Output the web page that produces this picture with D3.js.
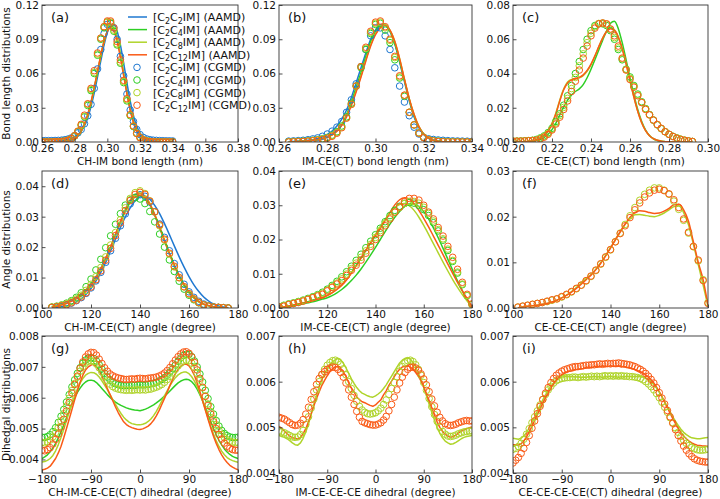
<!DOCTYPE html>
<html><head><meta charset="utf-8">
<script src="https://cdn.jsdelivr.net/npm/d3@7"></script>
<style>body{margin:0;background:#fff} svg text{font-family:"DejaVu Sans",sans-serif;fill:#111}</style>
</head><body><svg id="c" width="720" height="499"></svg>
<script>
// ---------- (a) CH-IM bond length ----------
const aX=[0.260,0.262,0.264,0.266,0.268,0.270,0.272,0.274,0.276,0.278,0.280,0.282,0.284,0.286,0.288,0.290,0.292,0.294,0.296,0.298,0.300,0.302,0.304,0.306,0.308,0.310,0.312,0.314,0.316,0.318,0.320,0.322,0.324,0.326,0.328,0.330,0.332,0.334,0.336,0.338,0.340];
const aLineC2=[0.0003,0.0004,0.0005,0.0006,0.0008,0.001,0.0013,0.0017,0.0023,0.0032,0.0045,0.0065,0.0095,0.014,0.021,0.031,0.043,0.057,0.071,0.085,0.096,0.102,0.103,0.097,0.085,0.069,0.052,0.036,0.023,0.014,0.008,0.0045,0.0028,0.0018,0.0012,0.0008,0.0005,0.0003,0.0002,0.0001,0];
const aLineC4=[0,0,0,0,0,0.0001,0.0003,0.0006,0.0011,0.002,0.0035,0.006,0.0098,0.0155,0.0235,0.034,0.047,0.061,0.075,0.088,0.097,0.102,0.1,0.091,0.077,0.06,0.044,0.029,0.018,0.01,0.0055,0.0028,0.0013,0.0006,0.0003,0.0001,0,0,0,0,0];
const aLineC8=[0,0,0,0,0,0.0001,0.0002,0.0005,0.001,0.0018,0.0033,0.0058,0.0096,0.0153,0.0235,0.0345,0.0475,0.0615,0.0755,0.088,0.097,0.101,0.099,0.09,0.076,0.059,0.043,0.0285,0.0175,0.0098,0.0052,0.0026,0.0012,0.0005,0.0002,0.0001,0,0,0,0,0];
const aLineC12=[0,0,0,0,0,0.0001,0.0002,0.0004,0.0008,0.0016,0.003,0.0055,0.0095,0.0155,0.024,0.035,0.048,0.062,0.076,0.088,0.097,0.1,0.097,0.088,0.074,0.058,0.042,0.028,0.017,0.0095,0.005,0.0025,0.0012,0.0005,0.0002,0.0001,0,0,0,0,0];
const aDotC2=[0.0012,0.0012,0.0012,0.0012,0.0013,0.0014,0.0016,0.002,0.0026,0.0036,0.0055,0.008,0.011,0.016,0.023,0.033,0.047,0.064,0.081,0.095,0.103,0.104,0.1,0.09,0.075,0.058,0.042,0.028,0.018,0.011,0.0065,0.004,0.0027,0.002,0.0016,0.0014,0.0012,0.0011,0.001,0.001,0.0009];
const aDotC4=[0,0,0,0.0001,0.0002,0.0003,0.0005,0.0009,0.0016,0.003,0.0053,0.009,0.0145,0.022,0.032,0.045,0.06,0.076,0.09,0.1,0.105,0.104,0.097,0.085,0.069,0.052,0.036,0.023,0.0135,0.0075,0.004,0.002,0.001,0.0005,0.0002,0.0001,0,0,0,0,0];
const aDotC8=[0,0,0,0.0001,0.0002,0.0003,0.0005,0.0009,0.0016,0.003,0.0054,0.0092,0.0148,0.0225,0.033,0.046,0.061,0.077,0.091,0.101,0.105,0.105,0.098,0.086,0.07,0.053,0.037,0.0235,0.014,0.0078,0.0041,0.002,0.001,0.0005,0.0002,0.0001,0,0,0,0,0];
const aDotC12=[0,0,0,0,0.0001,0.0002,0.0004,0.0008,0.0015,0.003,0.0055,0.0095,0.0155,0.0235,0.0335,0.047,0.0625,0.078,0.091,0.101,0.106,0.106,0.1,0.088,0.072,0.054,0.038,0.024,0.014,0.0075,0.0038,0.0018,0.0008,0.0003,0.0001,0,0,0,0,0,0];

// ---------- (b) IM-CE(CT) bond length ----------
const bX=[0.264,0.266,0.268,0.270,0.272,0.274,0.276,0.278,0.280,0.282,0.284,0.286,0.288,0.290,0.292,0.294,0.296,0.298,0.300,0.302,0.304,0.306,0.308,0.310,0.312,0.314,0.316,0.318,0.320,0.322,0.324,0.326,0.328,0.330,0.332,0.334,0.336,0.338,0.340];
const bLineC2=[0.0002,0.0004,0.0007,0.001,0.0015,0.002,0.003,0.0045,0.0065,0.0095,0.014,0.02,0.028,0.039,0.052,0.065,0.078,0.09,0.098,0.103,0.1025,0.097,0.086,0.07,0.053,0.036,0.022,0.0125,0.0065,0.0032,0.0015,0.0007,0.0003,0.0001,0,0,0,0,0];
const bLineC4=[0,0.0002,0.0004,0.0007,0.001,0.0015,0.002,0.003,0.0043,0.0064,0.0098,0.015,0.024,0.035,0.048,0.061,0.075,0.088,0.097,0.102,0.1025,0.097,0.086,0.071,0.054,0.037,0.023,0.013,0.0068,0.0033,0.0015,0.0006,0.0002,0.0001,0,0,0,0,0];
const bLineC8=[0,0.0002,0.0004,0.0007,0.001,0.0015,0.002,0.003,0.0042,0.0063,0.0096,0.0147,0.023,0.033,0.045,0.058,0.072,0.085,0.095,0.1008,0.1025,0.098,0.088,0.073,0.055,0.038,0.024,0.0135,0.007,0.0033,0.0015,0.0006,0.0002,0.0001,0,0,0,0,0];
const bLineC12=[0,0.0002,0.0004,0.0007,0.001,0.0015,0.002,0.003,0.0042,0.0062,0.0095,0.0145,0.022,0.032,0.044,0.057,0.071,0.084,0.094,0.1,0.102,0.098,0.088,0.073,0.055,0.038,0.024,0.0135,0.007,0.0033,0.0015,0.0006,0.0002,0.0001,0,0,0,0,0];
const bDotC2=[0.0008,0.001,0.0012,0.0015,0.002,0.0027,0.0036,0.005,0.007,0.0095,0.013,0.018,0.026,0.037,0.051,0.066,0.081,0.093,0.1,0.1,0.093,0.081,0.065,0.049,0.035,0.023,0.013,0.007,0.004,0.0028,0.0022,0.0018,0.0015,0.0012,0.001,0.0009,0.0008,0.0007,0.0006];
const bDotC4=[0.0002,0.0003,0.0005,0.0007,0.001,0.0014,0.002,0.0028,0.004,0.006,0.009,0.014,0.022,0.034,0.049,0.065,0.081,0.095,0.103,0.104,0.098,0.087,0.072,0.056,0.04,0.026,0.015,0.008,0.004,0.002,0.0012,0.0008,0.0005,0.0003,0.0002,0.0001,0,0,0];
const bDotC8=[0.0001,0.0002,0.0004,0.0006,0.0009,0.0013,0.0018,0.0025,0.0036,0.0055,0.0083,0.013,0.021,0.033,0.049,0.066,0.082,0.096,0.104,0.105,0.1,0.089,0.074,0.057,0.041,0.026,0.015,0.008,0.004,0.0019,0.001,0.0006,0.0003,0.0002,0.0001,0,0,0,0];
const bDotC12=[0,0.0001,0.0002,0.0004,0.0007,0.001,0.0015,0.0022,0.0033,0.005,0.0077,0.0125,0.021,0.033,0.049,0.066,0.083,0.097,0.105,0.106,0.101,0.09,0.075,0.058,0.041,0.026,0.015,0.0078,0.0038,0.0018,0.0009,0.0004,0.0002,0,0,0,0,0,0];

// ---------- (c) CE-CE(CT) bond length ----------
const cX=[0.200,0.202,0.204,0.206,0.208,0.210,0.212,0.214,0.216,0.218,0.220,0.222,0.224,0.226,0.228,0.230,0.232,0.234,0.236,0.238,0.240,0.242,0.244,0.246,0.248,0.250,0.252,0.254,0.256,0.258,0.260,0.262,0.264,0.266,0.268,0.270,0.272,0.274,0.276,0.278,0.280,0.282,0.284,0.286,0.288,0.290,0.292];
const cLineC4=[0,0,0,0,0.0002,0.0004,0.0008,0.0015,0.0027,0.0045,0.0072,0.011,0.0158,0.0205,0.0245,0.0275,0.0295,0.031,0.0335,0.0375,0.0425,0.048,0.0538,0.0595,0.0648,0.0693,0.0705,0.0662,0.058,0.048,0.0375,0.0275,0.0188,0.012,0.007,0.0038,0.0019,0.0009,0.0004,0.0002,0.0001,0,0,0,0,0,0];
const cLineC8=[0,0,0.0001,0.0002,0.0004,0.0007,0.0013,0.0023,0.004,0.0066,0.011,0.017,0.0245,0.031,0.035,0.0365,0.0368,0.0375,0.0388,0.0413,0.045,0.05,0.0556,0.0608,0.0647,0.0665,0.0655,0.0615,0.0547,0.0458,0.0358,0.0262,0.0178,0.0112,0.0066,0.0037,0.002,0.001,0.0005,0.0002,0.0001,0,0,0,0,0,0];
const cLineC12=[0,0,0.0001,0.0002,0.0004,0.0007,0.0013,0.0022,0.0038,0.0062,0.0105,0.0165,0.024,0.0305,0.0345,0.0362,0.0369,0.0378,0.0392,0.0418,0.0455,0.0503,0.0557,0.0607,0.0645,0.0662,0.0652,0.0612,0.0545,0.0457,0.0358,0.0262,0.0178,0.0112,0.0066,0.0037,0.002,0.001,0.0005,0.0002,0.0001,0,0,0,0,0,0];
const cDotC4=[0.0005,0.0005,0.0006,0.0007,0.0008,0.001,0.0015,0.0024,0.0036,0.0055,0.008,0.012,0.0165,0.0215,0.027,0.033,0.04,0.047,0.054,0.06,0.065,0.068,0.069,0.069,0.068,0.065,0.06,0.054,0.048,0.0425,0.038,0.033,0.028,0.0235,0.0195,0.016,0.0128,0.01,0.0078,0.006,0.0045,0.0033,0.0024,0.0016,0.001,0.0006,0.0003];
const cDotC8=[0.0005,0.0005,0.0005,0.0006,0.0007,0.0009,0.0012,0.002,0.0032,0.005,0.0075,0.0112,0.0155,0.0202,0.0255,0.0312,0.0377,0.0445,0.0515,0.058,0.0635,0.0673,0.0692,0.0695,0.0688,0.0658,0.061,0.055,0.0485,0.0423,0.0372,0.0325,0.0275,0.0232,0.0193,0.0159,0.0128,0.0101,0.0079,0.006,0.0045,0.0033,0.0023,0.0016,0.001,0.0006,0.0003];
const cDotC12=[0.0005,0.0005,0.0005,0.0006,0.0007,0.0008,0.001,0.0017,0.0028,0.0045,0.007,0.0105,0.0145,0.019,0.024,0.0295,0.0355,0.042,0.049,0.056,0.062,0.0665,0.069,0.0695,0.069,0.066,0.062,0.056,0.049,0.042,0.0365,0.032,0.027,0.023,0.019,0.0158,0.0128,0.0102,0.008,0.006,0.0045,0.0032,0.0022,0.0015,0.001,0.0006,0.0003];

// ---------- (d) CH-IM-CE(CT) angle ----------
const dX=[104,106,108,110,112,114,116,118,120,122,124,126,128,130,132,134,136,138,140,142,144,146,148,150,152,154,156,158,160,162,164,166,168,170,172,174,176];
const dLineC2=[0.0001,0.0002,0.0004,0.0007,0.0012,0.002,0.003,0.0045,0.0064,0.0088,0.0117,0.015,0.0187,0.0226,0.0264,0.0299,0.0329,0.0352,0.0365,0.0367,0.0357,0.0337,0.031,0.0277,0.0241,0.0204,0.0168,0.0134,0.0103,0.0076,0.0054,0.0036,0.0023,0.0013,0.0007,0.0003,0.0001];
const dLineC4=[0.0005,0.0009,0.0014,0.002,0.0027,0.0036,0.0047,0.0061,0.0079,0.0102,0.013,0.0163,0.02,0.024,0.028,0.0317,0.0347,0.0365,0.037,0.0361,0.0339,0.0305,0.0264,0.022,0.0178,0.0139,0.0104,0.0075,0.0051,0.0033,0.002,0.0012,0.0007,0.0004,0.0002,0.0001,0];
const dLineC8=[0.0004,0.0008,0.0012,0.0018,0.0025,0.0034,0.0045,0.0059,0.0077,0.01,0.0128,0.0162,0.02,0.0242,0.0284,0.0323,0.0355,0.0374,0.0378,0.0368,0.0344,0.0308,0.0266,0.0222,0.0179,0.0139,0.0104,0.0075,0.0051,0.0033,0.002,0.0012,0.0007,0.0004,0.0002,0.0001,0];
const dLineC12=[0.0003,0.0006,0.001,0.0015,0.0022,0.003,0.004,0.0055,0.0073,0.0097,0.0127,0.0162,0.02,0.0242,0.0283,0.0321,0.0352,0.0371,0.0376,0.0366,0.0342,0.0306,0.0266,0.0223,0.018,0.0142,0.0107,0.0077,0.0053,0.0035,0.0022,0.0013,0.0008,0.0004,0.0002,0.0001,0];
const dDotC2=[0.0002,0.0003,0.0006,0.001,0.0016,0.0024,0.0034,0.0048,0.0066,0.0089,0.0117,0.015,0.0188,0.0229,0.027,0.0309,0.0342,0.0363,0.0372,0.0367,0.0348,0.0316,0.0276,0.0232,0.0188,0.0146,0.0109,0.0078,0.0053,0.0035,0.0022,0.0013,0.0007,0.0004,0.0002,0.0001,0];
const dDotC4=[0.0003,0.0006,0.001,0.0016,0.0024,0.0035,0.005,0.007,0.0095,0.0125,0.016,0.0198,0.0237,0.0275,0.031,0.0338,0.0355,0.0362,0.0358,0.0343,0.0317,0.0283,0.0243,0.02,0.0158,0.012,0.0088,0.0062,0.0042,0.0027,0.0017,0.001,0.0006,0.0003,0.0002,0.0001,0];
const dDotC8=[0.0003,0.0005,0.0009,0.0014,0.0021,0.003,0.0042,0.0058,0.0078,0.0103,0.0133,0.0168,0.0207,0.0248,0.029,0.0329,0.036,0.0379,0.0385,0.0376,0.0352,0.0315,0.027,0.0223,0.0177,0.0135,0.0099,0.0069,0.0046,0.0029,0.0018,0.001,0.0006,0.0003,0.0002,0.0001,0];
const dDotC12=[0.0002,0.0004,0.0007,0.0011,0.0017,0.0025,0.0036,0.005,0.0069,0.0093,0.0122,0.0157,0.0196,0.0238,0.028,0.032,0.0353,0.0373,0.038,0.0373,0.0351,0.0316,0.0273,0.0226,0.018,0.0137,0.01,0.007,0.0047,0.003,0.0018,0.001,0.0006,0.0003,0.0002,0.0001,0];

// ---------- (e) IM-CE-CE(CT) angle ----------
const eX=[100,102,104,106,108,110,112,114,116,118,120,122,124,126,128,130,132,134,136,138,140,142,144,146,148,150,152,154,156,158,160,162,164,166,168,170,172,174,176,178,180];
const eLineC4=[0,0.0002,0.0004,0.0006,0.0009,0.0012,0.0015,0.0018,0.0022,0.0026,0.003,0.0036,0.0044,0.0054,0.0066,0.008,0.0096,0.0114,0.0134,0.0155,0.0177,0.02,0.0223,0.0245,0.0265,0.0282,0.0296,0.0304,0.0304,0.0296,0.0281,0.026,0.0234,0.0205,0.0174,0.0142,0.011,0.0079,0.005,0.0024,0.0003];
const eLineC8=[0,0.0003,0.0006,0.0009,0.0012,0.0015,0.0018,0.0022,0.0026,0.0031,0.0037,0.0045,0.0055,0.0068,0.0084,0.0103,0.0124,0.0146,0.0169,0.0192,0.0215,0.0238,0.0259,0.0278,0.0293,0.0302,0.0305,0.0299,0.0285,0.0265,0.0241,0.0215,0.0188,0.0161,0.0134,0.0108,0.0083,0.006,0.0039,0.002,0.0003];
const eLineC12=[0,0.0003,0.0006,0.0009,0.0012,0.0015,0.0018,0.0022,0.0026,0.003,0.0036,0.0044,0.0054,0.0066,0.0082,0.0102,0.0124,0.0146,0.0168,0.019,0.0211,0.0232,0.0255,0.0279,0.0301,0.0316,0.0322,0.0318,0.0304,0.0285,0.0262,0.0237,0.021,0.0183,0.0156,0.0128,0.0101,0.0075,0.005,0.0027,0.0004];
const eDotC4=[0.0004,0.0008,0.0012,0.0015,0.0019,0.0023,0.0028,0.0033,0.0039,0.0046,0.0055,0.0066,0.0078,0.0091,0.0106,0.0122,0.0139,0.0157,0.0176,0.0195,0.0214,0.0233,0.0252,0.027,0.0285,0.0297,0.0305,0.0308,0.0306,0.0299,0.0287,0.027,0.0249,0.0225,0.0198,0.0168,0.0136,0.0102,0.0068,0.0036,0.001];
const eDotC8=[0.0003,0.0007,0.0011,0.0014,0.0018,0.0022,0.0026,0.0031,0.0037,0.0043,0.0052,0.0062,0.0073,0.0085,0.0099,0.0115,0.0131,0.0148,0.0167,0.0186,0.0206,0.0226,0.0246,0.0264,0.028,0.0294,0.0305,0.0311,0.0311,0.0306,0.0294,0.0276,0.0254,0.0229,0.0202,0.0172,0.0139,0.0105,0.007,0.0037,0.001];
const eDotC12=[0.0003,0.0005,0.001,0.0013,0.0016,0.002,0.0025,0.003,0.0035,0.004,0.005,0.006,0.007,0.008,0.0095,0.011,0.0125,0.014,0.016,0.018,0.02,0.022,0.024,0.026,0.028,0.0295,0.031,0.032,0.032,0.0315,0.03,0.028,0.026,0.0235,0.021,0.018,0.0148,0.0113,0.0075,0.004,0.0012];

// ---------- (f) CE-CE-CE(CT) angle ----------
const fX=[102,104,106,108,110,112,114,116,118,120,122,124,126,128,130,132,134,136,138,140,142,144,146,148,150,152,154,156,158,160,162,164,166,168,170,172,174,176,178,180];
const fLineC8=[0,0.0002,0.0004,0.0005,0.0006,0.0008,0.001,0.0013,0.0017,0.0022,0.0028,0.0036,0.0045,0.0055,0.0064,0.0073,0.0085,0.0099,0.0115,0.0132,0.015,0.0167,0.0183,0.0196,0.0204,0.0205,0.0203,0.0201,0.02,0.0203,0.0208,0.0215,0.0222,0.0224,0.0209,0.0182,0.014,0.0095,0.005,0.0004];
const fLineC12=[0,0.0002,0.0004,0.0005,0.0006,0.0008,0.001,0.0013,0.0017,0.0022,0.0028,0.0035,0.0043,0.0052,0.0062,0.0072,0.0084,0.0098,0.0114,0.0131,0.0149,0.0167,0.0184,0.0199,0.0209,0.0213,0.0212,0.0209,0.0207,0.0208,0.0212,0.0218,0.0226,0.0227,0.0215,0.019,0.0145,0.01,0.0062,0.0005];
const fDotC8=[0.0002,0.0004,0.0006,0.0008,0.001,0.0012,0.0014,0.0017,0.002,0.0024,0.0029,0.0035,0.0042,0.005,0.0059,0.0069,0.0082,0.0096,0.0111,0.0127,0.0145,0.0164,0.0183,0.0202,0.022,0.0236,0.0249,0.0258,0.0263,0.0263,0.0258,0.0249,0.0234,0.0216,0.0192,0.0164,0.0134,0.0103,0.0062,0.0012];
const fDotC12=[0.0002,0.0004,0.0006,0.0008,0.001,0.0012,0.0015,0.0018,0.002,0.0025,0.003,0.0036,0.0043,0.005,0.006,0.007,0.0083,0.0097,0.0112,0.0128,0.0145,0.0163,0.018,0.0198,0.0215,0.023,0.0243,0.0252,0.0258,0.026,0.0257,0.025,0.0237,0.022,0.0195,0.0166,0.0135,0.0105,0.006,0.001];

// ---------- dihedral grid (g, h, i) ----------
const dihX=[-180,-175,-170,-165,-160,-155,-150,-145,-140,-135,-130,-125,-120,-115,-110,-105,-100,-95,-90,-85,-80,-75,-70,-65,-60,-55,-50,-45,-40,-35,-30,-25,-20,-15,-10,-5,0,5,10,15,20,25,30,35,40,45,50,55,60,65,70,75,80,85,90,95,100,105,110,115,120,125,130,135,140,145,150,155,160,165,170,175,180];

// (g) CH-IM-CE-CE(CT)
const gLineC4=[0.00403,0.00408,0.00415,0.00425,0.00437,0.00452,0.0047,0.0049,0.00512,0.00535,0.00558,0.0058,0.006,0.00617,0.00631,0.00643,0.00651,0.00656,0.00657,0.00655,0.00649,0.0064,0.0063,0.0062,0.0061,0.00601,0.00593,0.00586,0.0058,0.00575,0.00571,0.00567,0.00564,0.00562,0.0056,0.00559,0.00558,0.0056,0.00563,0.00567,0.00572,0.00577,0.00583,0.0059,0.00597,0.00605,0.00613,0.00622,0.00631,0.0064,0.00648,0.00654,0.00658,0.0066,0.00658,0.00652,0.00642,0.00628,0.0061,0.0059,0.00568,0.00545,0.00522,0.005,0.0048,0.00462,0.00447,0.00434,0.00424,0.00416,0.0041,0.00406,0.00403];
const gLineC8=[0.00392,0.00393,0.00397,0.00403,0.00413,0.00428,0.00448,0.00472,0.00498,0.00526,0.00554,0.00581,0.00606,0.00628,0.00647,0.00662,0.00673,0.00679,0.00682,0.00681,0.00676,0.00667,0.00655,0.00641,0.00626,0.0061,0.00594,0.00578,0.00563,0.00549,0.00537,0.00528,0.00521,0.00516,0.00514,0.00512,0.00512,0.00514,0.00517,0.00523,0.00531,0.00542,0.00556,0.00572,0.00589,0.00606,0.00623,0.00639,0.00653,0.00665,0.00674,0.0068,0.00683,0.00683,0.00678,0.00668,0.00654,0.00636,0.00614,0.00589,0.00562,0.00534,0.00507,0.00482,0.0046,0.00442,0.00427,0.00415,0.00406,0.004,0.00396,0.00393,0.00391];
const gLineC12=[0.00366,0.00368,0.00372,0.00378,0.0039,0.00403,0.00421,0.00443,0.0047,0.005,0.00531,0.00562,0.00593,0.00622,0.0065,0.00673,0.0069,0.007,0.00706,0.00708,0.007,0.00688,0.0067,0.00651,0.0063,0.0061,0.0059,0.0057,0.00552,0.00536,0.00522,0.00513,0.00507,0.00503,0.005,0.00498,0.00497,0.00499,0.00503,0.00508,0.00516,0.00527,0.00541,0.00558,0.00578,0.00598,0.00618,0.0064,0.0066,0.00678,0.00692,0.00702,0.00708,0.00709,0.00703,0.0069,0.00672,0.00648,0.0062,0.0059,0.0056,0.0053,0.00502,0.00475,0.00452,0.00432,0.00415,0.00401,0.0039,0.00381,0.00375,0.0037,0.00366];
const gDotC4=[0.00472,0.00471,0.00474,0.0048,0.0049,0.00503,0.0052,0.0054,0.00562,0.00586,0.0061,0.00635,0.00658,0.00679,0.00697,0.00712,0.00722,0.00728,0.0073,0.00727,0.00719,0.00707,0.00693,0.00679,0.00667,0.00657,0.0065,0.00645,0.00642,0.0064,0.00639,0.0064,0.00639,0.00641,0.0064,0.00641,0.00642,0.00641,0.00642,0.00643,0.00645,0.00647,0.0065,0.00654,0.00659,0.00665,0.00673,0.00683,0.00694,0.00706,0.00718,0.00729,0.00737,0.00741,0.0074,0.00733,0.00719,0.007,0.00677,0.00651,0.00624,0.00597,0.00571,0.00547,0.00526,0.00508,0.00494,0.00484,0.00477,0.00473,0.00471,0.00471,0.00472];
const gDotC8=[0.00455,0.00454,0.00457,0.00463,0.00473,0.00487,0.00504,0.00525,0.00548,0.00573,0.00598,0.00623,0.00646,0.00667,0.00686,0.00701,0.00712,0.00718,0.0072,0.00717,0.00709,0.00697,0.00683,0.00668,0.00655,0.00644,0.00636,0.00631,0.00628,0.00626,0.00625,0.00624,0.00625,0.00624,0.00625,0.00626,0.00625,0.00626,0.00625,0.00627,0.00628,0.00631,0.00634,0.00638,0.00643,0.0065,0.00659,0.00669,0.0068,0.00692,0.00703,0.00712,0.00719,0.00722,0.0072,0.00712,0.00698,0.00679,0.00657,0.00632,0.00606,0.0058,0.00555,0.00532,0.00512,0.00495,0.00481,0.00471,0.00464,0.00459,0.00456,0.00455,0.00455];
const gDotC12=[0.0043,0.00428,0.00432,0.00438,0.0045,0.00465,0.00482,0.00505,0.0053,0.00557,0.00585,0.00615,0.00643,0.0067,0.00695,0.00716,0.00732,0.00742,0.00747,0.00746,0.00738,0.00725,0.00711,0.00697,0.00686,0.00677,0.00671,0.00667,0.00664,0.00662,0.0066,0.00659,0.0066,0.00661,0.0066,0.00662,0.00663,0.00662,0.00661,0.00663,0.00664,0.00665,0.00667,0.0067,0.00674,0.0068,0.00688,0.00698,0.0071,0.00722,0.00733,0.00742,0.00748,0.00749,0.00744,0.00732,0.00714,0.0069,0.00663,0.00634,0.00604,0.00575,0.00547,0.00522,0.005,0.00481,0.00466,0.00453,0.00443,0.00436,0.00432,0.0043,0.0043];

// (h) IM-CE-CE-CE
const hLineC8=[0.00482,0.0048,0.00478,0.00475,0.00471,0.00466,0.00462,0.00461,0.00466,0.00476,0.0049,0.00508,0.00528,0.0055,0.0057,0.00589,0.00605,0.00618,0.00628,0.00637,0.00644,0.00648,0.00651,0.00648,0.0064,0.0063,0.00618,0.00606,0.00596,0.00587,0.0058,0.00575,0.00572,0.00569,0.00567,0.00566,0.00569,0.00573,0.00578,0.00585,0.00593,0.00603,0.00612,0.00622,0.00632,0.00641,0.00647,0.00651,0.00652,0.00649,0.00642,0.00632,0.00619,0.00604,0.00587,0.00569,0.00551,0.00533,0.00516,0.005,0.00487,0.00477,0.0047,0.00466,0.00463,0.00464,0.00467,0.00471,0.00475,0.00478,0.0048,0.00481,0.00482];
const hLineC12=[0.00502,0.00498,0.00492,0.00486,0.00481,0.00477,0.00476,0.00474,0.00478,0.00486,0.00497,0.00512,0.0053,0.00547,0.00563,0.00578,0.00592,0.00603,0.00613,0.00622,0.00628,0.00633,0.00632,0.00628,0.00621,0.00611,0.00598,0.00586,0.00578,0.00566,0.00561,0.00556,0.00554,0.00551,0.00548,0.00546,0.00549,0.00555,0.0056,0.00571,0.0058,0.00592,0.00601,0.00611,0.0062,0.00627,0.00632,0.00634,0.00636,0.00632,0.00627,0.0062,0.00612,0.00601,0.00588,0.00573,0.00558,0.00543,0.00527,0.00512,0.005,0.00491,0.00485,0.00481,0.00478,0.0048,0.00483,0.00488,0.00492,0.00494,0.00497,0.00499,0.00501];
const hDotC8=[0.00492,0.0049,0.00488,0.00485,0.00482,0.00479,0.00478,0.00479,0.00484,0.00493,0.00506,0.00523,0.00542,0.00562,0.00582,0.006,0.00615,0.00627,0.00636,0.00642,0.00646,0.00647,0.00644,0.00638,0.00628,0.00615,0.006,0.00585,0.0057,0.00557,0.00546,0.00538,0.00533,0.0053,0.00529,0.0053,0.00532,0.00536,0.00542,0.0055,0.0056,0.00572,0.00585,0.00598,0.00611,0.00623,0.00633,0.00641,0.00646,0.00647,0.00644,0.00637,0.00627,0.00614,0.00598,0.00581,0.00563,0.00545,0.00528,0.00513,0.005,0.00491,0.00485,0.00481,0.0048,0.00481,0.00483,0.00486,0.00488,0.0049,0.00491,0.00492,0.00492];
const hDotC12=[0.00522,0.0052,0.00518,0.00514,0.0051,0.00506,0.00504,0.00505,0.00509,0.00517,0.00529,0.00544,0.00561,0.00578,0.00594,0.00607,0.00616,0.00622,0.00627,0.0063,0.00632,0.00631,0.00627,0.0062,0.0061,0.00597,0.00582,0.00566,0.0055,0.00535,0.00522,0.00513,0.0051,0.00508,0.00506,0.00505,0.00505,0.00507,0.0051,0.00516,0.00524,0.00536,0.0055,0.00566,0.00582,0.00597,0.0061,0.0062,0.00627,0.00631,0.00632,0.0063,0.00625,0.00617,0.00606,0.00593,0.00578,0.00562,0.00547,0.00533,0.00522,0.00514,0.00508,0.00505,0.00504,0.00505,0.00507,0.0051,0.00512,0.00514,0.00515,0.00514,0.00514];

// (i) CE-CE-CE-CE(CT)
const iLineC8=[0.00476,0.00475,0.00474,0.00476,0.00481,0.00489,0.00499,0.00511,0.00523,0.00536,0.00548,0.0056,0.00571,0.00581,0.0059,0.00597,0.00603,0.00607,0.0061,0.00611,0.00612,0.00611,0.00612,0.0061,0.00611,0.00609,0.0061,0.00609,0.00611,0.0061,0.00612,0.0061,0.00611,0.00609,0.00611,0.0061,0.00612,0.0061,0.00611,0.00609,0.00611,0.0061,0.00612,0.00611,0.00612,0.00611,0.00612,0.00611,0.0061,0.00608,0.00605,0.006,0.00594,0.00586,0.00577,0.00567,0.00556,0.00545,0.00534,0.00523,0.00513,0.00504,0.00496,0.00489,0.00484,0.0048,0.00477,0.00476,0.00475,0.00475,0.00476,0.00477,0.00478];
const iLineC12=[0.00462,0.00462,0.00461,0.00464,0.0047,0.00479,0.0049,0.00502,0.00515,0.00528,0.00541,0.00553,0.00565,0.00576,0.00586,0.00595,0.00603,0.00609,0.00614,0.00618,0.00621,0.00623,0.00624,0.00626,0.00627,0.00628,0.00629,0.00631,0.00632,0.00631,0.00633,0.00634,0.00633,0.00635,0.00634,0.00633,0.00635,0.00634,0.00633,0.00634,0.00632,0.00633,0.00631,0.0063,0.00628,0.00627,0.00624,0.00622,0.00619,0.00615,0.0061,0.00604,0.00597,0.00588,0.00578,0.00567,0.00555,0.00543,0.00531,0.00519,0.00508,0.00498,0.00489,0.00481,0.00475,0.0047,0.00466,0.00463,0.00461,0.0046,0.00459,0.00459,0.00458];
const iDotC8=[0.00452,0.00454,0.00458,0.00465,0.00474,0.00485,0.00497,0.0051,0.00523,0.00536,0.00549,0.00561,0.00572,0.00582,0.0059,0.00597,0.00602,0.00605,0.00607,0.00608,0.00609,0.00609,0.0061,0.0061,0.00609,0.0061,0.00611,0.0061,0.00611,0.00612,0.00611,0.00612,0.00611,0.00612,0.00613,0.00612,0.00613,0.00612,0.00613,0.00612,0.00613,0.00612,0.00612,0.00611,0.00611,0.0061,0.00609,0.00607,0.00604,0.006,0.00595,0.00589,0.00582,0.00574,0.00565,0.00555,0.00544,0.00533,0.00521,0.0051,0.00499,0.00489,0.0048,0.00472,0.00465,0.0046,0.00456,0.00453,0.00451,0.0045,0.0045,0.00451,0.00452];
const iDotC12=[0.00422,0.00428,0.00434,0.00443,0.00454,0.00467,0.00482,0.00498,0.00514,0.0053,0.00546,0.00561,0.00575,0.00587,0.00598,0.00607,0.00614,0.00619,0.00623,0.00626,0.00628,0.0063,0.00632,0.00633,0.00633,0.00634,0.00635,0.00636,0.00636,0.00637,0.00637,0.00638,0.00639,0.00638,0.00639,0.0064,0.00639,0.0064,0.0064,0.00641,0.0064,0.00639,0.00638,0.00637,0.00635,0.00633,0.0063,0.00627,0.00623,0.00618,0.00612,0.00605,0.00597,0.00587,0.00576,0.00564,0.00551,0.00537,0.00523,0.00509,0.00495,0.00482,0.0047,0.00459,0.0045,0.00442,0.00436,0.00431,0.00428,0.00426,0.00425,0.00424,0.00424];

// ---------- ticks / labels ----------
const aTicksX=[0.26,0.28,0.30,0.32,0.34,0.36,0.38], bTicksX=[0.26,0.28,0.30,0.32,0.34], cTicksX=[0.20,0.22,0.24,0.26,0.28,0.30];
const angTicksX=[100,120,140,160,180], dihTicksX=[-180,-90,0,90,180];
const bondTicksY=[0,0.03,0.06,0.09,0.12], cTicksY=[0,0.02,0.04,0.06,0.08];
const deTicksY=[0,0.01,0.02,0.03,0.04], fTicksY=[0,0.01,0.02,0.03];
const gTicksY=[0.004,0.005,0.006,0.007,0.008], hiTicksY=[0.004,0.005,0.006,0.007];
const xLabels=["CH-IM bond length (nm)","IM-CE(CT) bond length (nm)","CE-CE(CT) bond length (nm)","CH-IM-CE(CT) angle (degree)","IM-CE-CE(CT) angle (degree)","CE-CE-CE(CT) angle (degree)","CH-IM-CE-CE(CT) dihedral (degree)","IM-CE-CE-CE dihedral (degree)","CE-CE-CE-CE(CT) dihedral (degree)"];
const yLabels=["Bond length distributions","Angle distributions","Dihedral distributions"];
const panelTags=["(a)","(b)","(c)","(d)","(e)","(f)","(g)","(h)","(i)"];
const seriesKeys=["C2","C4","C8","C12"];
const seriesSub=["2","4","8","12"];

// ---------- table built from the arrays ----------
const f2=d3.format(".2f"), f3=d3.format(".3f"), fd=d3.format("d");
const panels=[
 {x:aX,xDom:[0.26,0.38],xt:aTicksX,xf:f2,yDom:[0,0.12],yt:bondTicksY,yf:f2,smooth:true,lines:[aLineC2,aLineC4,aLineC8,aLineC12],dots:[aDotC2,aDotC4,aDotC8,aDotC12]},
 {x:bX,xDom:[0.26,0.34],xt:bTicksX,xf:f2,yDom:[0,0.12],yt:bondTicksY,yf:f2,smooth:true,lines:[bLineC2,bLineC4,bLineC8,bLineC12],dots:[bDotC2,bDotC4,bDotC8,bDotC12]},
 {x:cX,xDom:[0.20,0.30],xt:cTicksX,xf:f2,yDom:[0,0.08],yt:cTicksY,yf:f2,smooth:true,lines:[null,cLineC4,cLineC8,cLineC12],dots:[null,cDotC4,cDotC8,cDotC12]},
 {x:dX,xDom:[100,180],xt:angTicksX,xf:fd,yDom:[0,0.045],yt:deTicksY,yf:f2,smooth:true,lines:[dLineC2,dLineC4,dLineC8,dLineC12],dots:[dDotC2,dDotC4,dDotC8,dDotC12]},
 {x:eX,xDom:[100,180],xt:angTicksX,xf:fd,yDom:[0,0.04],yt:deTicksY,yf:f2,smooth:true,lines:[null,eLineC4,eLineC8,eLineC12],dots:[null,eDotC4,eDotC8,eDotC12]},
 {x:fX,xDom:[100,180],xt:angTicksX,xf:fd,yDom:[0,0.03],yt:fTicksY,yf:f2,smooth:true,lines:[null,null,fLineC8,fLineC12],dots:[null,null,fDotC8,fDotC12]},
 {x:dihX,xDom:[-180,180],xt:dihTicksX,xf:fd,yDom:[0.00356,0.008],yt:gTicksY,yf:f3,smooth:false,lines:[null,gLineC4,gLineC8,gLineC12],dots:[null,gDotC4,gDotC8,gDotC12]},
 {x:dihX,xDom:[-180,180],xt:dihTicksX,xf:fd,yDom:[0.004,0.007],yt:hiTicksY,yf:f3,smooth:false,lines:[null,null,hLineC8,hLineC12],dots:[null,null,hDotC8,hDotC12]},
 {x:dihX,xDom:[-180,180],xt:dihTicksX,xf:fd,yDom:[0.004,0.007],yt:hiTicksY,yf:f3,smooth:false,lines:[null,null,iLineC8,iLineC12],dots:[null,null,iDotC8,iDotC12]}
];

// ---------- drawing ----------
const colors={C2:"#1f78d1",C4:"#2ecf24",C8:"#afd42a",C12:"#fa5a16"};
const cols=[[42,238],[279,472],[513,708]];
const rows=[[5,142],[171,308],[336,473]];
const svg=d3.select("#c");
const defs=svg.append("defs");

panels.forEach((p,k)=>{
  const [x0,x1]=cols[k%3],[y0,y1]=rows[Math.floor(k/3)];
  const xs=d3.scaleLinear().domain(p.xDom).range([x0,x1]);
  const ys=d3.scaleLinear().domain(p.yDom).range([y1,y0]);
  defs.append("clipPath").attr("id","cp"+k).append("rect").attr("x",x0).attr("y",y0).attr("width",x1-x0).attr("height",y1-y0);
  const plot=svg.append("g").attr("clip-path","url(#cp"+k+")");
  const line=d3.line().x(d=>xs(d[0])).y(d=>ys(d[1])).curve(p.smooth?d3.curveMonotoneX:d3.curveLinear);
  p.lines.forEach((arr,s)=>{
    if(!arr) return;
    plot.append("path").datum(arr.map((v,i)=>[p.x[i],v])).attr("d",line)
      .attr("fill","none").attr("stroke",colors[seriesKeys[s]]).attr("stroke-width",1.5).attr("stroke-linejoin","round");
  });
  p.dots.forEach((arr,s)=>{
    if(!arr) return;
    plot.append("g").selectAll("circle").data(arr.map((v,i)=>[p.x[i],v])).join("circle")
      .attr("cx",d=>xs(d[0])).attr("cy",d=>ys(d[1])).attr("r",3.3)
      .attr("fill","none").attr("stroke",colors[seriesKeys[s]]).attr("stroke-width",1);
  });
  const gx=svg.append("g").attr("transform",`translate(0,${y1})`)
    .call(d3.axisBottom(xs).tickValues(p.xt).tickFormat(p.xf).tickSizeInner(-3.5).tickSizeOuter(0).tickPadding(2.5));
  const gy=svg.append("g").attr("transform",`translate(${x0},0)`)
    .call(d3.axisLeft(ys).tickValues(p.yt).tickFormat(p.yf).tickSizeInner(-3.5).tickSizeOuter(0).tickPadding(3));
  [gx,gy].forEach(g=>{g.select(".domain").remove();g.attr("font-family",null).attr("font-size",null);
    g.selectAll("text").attr("font-size",10.5).style("fill","#111");g.selectAll("line").attr("stroke","#222").attr("stroke-width",0.8);});
  svg.append("rect").attr("x",x0).attr("y",y0).attr("width",x1-x0).attr("height",y1-y0)
    .attr("fill","none").attr("stroke","#333").attr("stroke-width",0.9);
  svg.append("text").attr("x",x0+9).attr("y",y0+17).attr("font-size",13).text(panelTags[k]);
  svg.append("text").attr("x",(x0+x1)/2).attr("y",y1+23).attr("text-anchor","middle").attr("font-size",10.5).text(xLabels[k]);
});
rows.forEach((r,j)=>{
  svg.append("text").attr("transform",`translate(9.5,${(r[0]+r[1])/2}) rotate(-90)`).attr("text-anchor","middle").attr("font-size",10.5).text(yLabels[j]);
});

// legend in (a)
const lg=svg.append("g");
seriesKeys.forEach((key,s)=>{
  [["AAMD",0],["CGMD",4]].forEach(([kind,off])=>{
    const y=17+(s+off)*12.6;
    if(kind==="AAMD") lg.append("line").attr("x1",128).attr("x2",147).attr("y1",y).attr("y2",y).attr("stroke",colors[key]).attr("stroke-width",1.5);
    else lg.append("circle").attr("cx",137).attr("cy",y).attr("r",3.3).attr("fill","none").attr("stroke",colors[key]).attr("stroke-width",1);
    const t=lg.append("text").attr("x",153).attr("y",y+4).attr("font-size",11);
    t.append("tspan").text("[C");
    t.append("tspan").attr("font-size",8).attr("dy",2.5).text("2");
    t.append("tspan").attr("dy",-2.5).text("C");
    t.append("tspan").attr("font-size",8).attr("dy",2.5).text(seriesSub[s]);
    t.append("tspan").attr("dy",-2.5).text("IM] ("+kind+")");
  });
});
</script></body></html>
